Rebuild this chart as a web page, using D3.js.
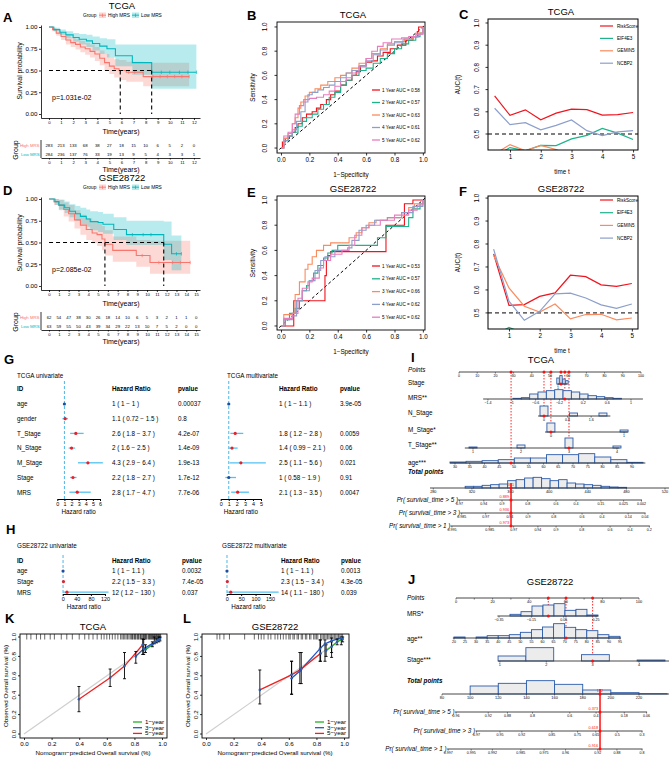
<!DOCTYPE html>
<html>
<head>
<meta charset="utf-8">
<script src="https://cdn.jsdelivr.net/npm/d3@7/dist/d3.min.js"></script>
<style>
html,body{margin:0;padding:0;background:#fff;}
svg{display:block;}
</style>
</head>
<body>
<svg id="fig" width="669" height="758"></svg>
<script>
// ===================== DATA =====================
// ---- A: TCGA Kaplan-Meier
const kmA_high_time  = [0, 0.3, 0.6, 1.0, 1.4, 1.8, 2.2, 2.6, 3.0, 3.4, 3.8, 4.2, 4.6, 5.0, 5.4, 5.8, 6.4, 7.8, 11.6];
const kmA_high_surv  = [1, 0.97, 0.93, 0.89, 0.85, 0.82, 0.80, 0.77, 0.75, 0.72, 0.69, 0.64, 0.59, 0.55, 0.52, 0.50, 0.48, 0.43, 0.43];
const kmA_high_lower = [1, 0.95, 0.90, 0.85, 0.80, 0.77, 0.74, 0.71, 0.68, 0.65, 0.61, 0.56, 0.50, 0.46, 0.42, 0.39, 0.37, 0.32, 0.32];
const kmA_high_upper = [1, 0.99, 0.96, 0.93, 0.90, 0.88, 0.86, 0.84, 0.82, 0.80, 0.77, 0.73, 0.69, 0.65, 0.63, 0.62, 0.60, 0.59, 0.59];
const kmA_high_cens  = [6.6, 7.1, 8.6, 9.2, 9.8, 10.4, 11.0, 11.6];
const kmA_low_time   = [0, 0.4, 0.9, 1.4, 2.0, 2.5, 3.1, 3.6, 4.2, 4.8, 5.5, 6.9, 8.5, 12.2];
const kmA_low_surv   = [1, 0.97, 0.94, 0.91, 0.88, 0.86, 0.84, 0.81, 0.78, 0.75, 0.67, 0.59, 0.48, 0.48];
const kmA_low_lower  = [1, 0.95, 0.91, 0.87, 0.83, 0.80, 0.77, 0.73, 0.69, 0.65, 0.55, 0.45, 0.29, 0.29];
const kmA_low_upper  = [1, 0.99, 0.97, 0.95, 0.93, 0.92, 0.91, 0.89, 0.87, 0.86, 0.80, 0.80, 0.80, 0.80];
const kmA_low_cens   = [9.3, 10.0, 10.8, 11.5, 12.2];
const kmA_medians    = [5.9, 8.5];
const riskA_times = [0,1,2,3,4,5,6,7,8,9,10,11,12];
const riskA_high  = [283,213,133,68,38,27,18,15,10,6,5,2,0];
const riskA_low   = [284,236,137,76,33,19,13,9,5,4,3,3,1];
// ---- D: GSE28722 Kaplan-Meier
const kmD_high_time  = [0, 0.5, 1.0, 1.5, 2.0, 2.6, 3.2, 3.8, 4.4, 4.9, 5.4, 5.7, 6.5, 8.9, 10.3, 14.4];
const kmD_high_surv  = [1, 0.97, 0.93, 0.88, 0.83, 0.76, 0.70, 0.65, 0.61, 0.59, 0.54, 0.48, 0.41, 0.35, 0.27, 0.27];
const kmD_high_lower = [1, 0.93, 0.87, 0.80, 0.74, 0.66, 0.59, 0.53, 0.49, 0.46, 0.41, 0.35, 0.28, 0.22, 0.14, 0.14];
const kmD_high_upper = [1, 1.0, 0.99, 0.96, 0.93, 0.87, 0.82, 0.78, 0.75, 0.73, 0.69, 0.64, 0.57, 0.53, 0.52, 0.52];
const kmD_high_cens  = [9.5, 11.2, 12.6, 13.4, 14.4];
const kmD_low_time   = [0, 0.6, 1.0, 1.6, 2.1, 2.7, 3.2, 3.8, 4.2, 5.0, 5.5, 6.6, 7.9, 11.7, 12.5, 13.5];
const kmD_low_surv   = [1, 0.97, 0.93, 0.90, 0.86, 0.83, 0.80, 0.77, 0.74, 0.73, 0.71, 0.65, 0.59, 0.48, 0.37, 0.37];
const kmD_low_lower  = [1, 0.93, 0.88, 0.84, 0.79, 0.75, 0.71, 0.68, 0.64, 0.62, 0.60, 0.53, 0.47, 0.30, 0.18, 0.18];
const kmD_low_upper  = [1, 1.0, 0.99, 0.97, 0.94, 0.92, 0.90, 0.88, 0.86, 0.85, 0.83, 0.79, 0.75, 0.74, 0.58, 0.58];
const kmD_low_cens   = [8.5, 9.6, 10.4, 13.0, 13.5];
const kmD_medians    = [5.7, 11.7];
const riskD_times = [0,1,2,3,4,5,6,7,8,9,10,11,12,13,14,15];
const riskD_high  = [62,54,47,38,30,26,18,14,10,6,5,3,2,1,1,0];
const riskD_low   = [63,59,55,50,43,39,34,29,22,13,10,7,5,2,0,0];

// ---- B / E: time-dependent ROC
const rocYears  = ["1 Year","2 Year","3 Year","4 Year","5 Year"];
const rocB_auc  = ["0.58","0.57","0.63","0.61","0.62"];
const rocE_auc  = ["0.53","0.57","0.66","0.62","0.62"];
const rocB_1y = [[0,0],[0.01,0.05],[0.03,0.08],[0.06,0.1],[0.08,0.13],[0.1,0.17],[0.12,0.2],[0.15,0.25],[0.18,0.28],[0.22,0.3],[0.25,0.33],[0.28,0.36],[0.32,0.4],[0.35,0.44],[0.38,0.47],[0.42,0.52],[0.46,0.56],[0.5,0.6],[0.53,0.63],[0.56,0.68],[0.6,0.71],[0.64,0.72],[0.68,0.76],[0.72,0.79],[0.77,0.82],[0.82,0.85],[0.88,0.89],[0.93,0.92],[0.96,0.96],[0.97,1],[1,1]];
const rocB_2y = [[0,0],[0.02,0.06],[0.05,0.1],[0.08,0.13],[0.12,0.18],[0.15,0.22],[0.18,0.25],[0.22,0.28],[0.26,0.32],[0.3,0.36],[0.34,0.42],[0.38,0.46],[0.42,0.52],[0.46,0.56],[0.5,0.6],[0.55,0.64],[0.6,0.66],[0.65,0.7],[0.7,0.74],[0.75,0.78],[0.8,0.82],[0.85,0.86],[0.9,0.89],[0.95,0.92],[0.98,0.95],[1,0.96],[1,1]];
const rocB_3y = [[0,0],[0.02,0.08],[0.05,0.12],[0.08,0.2],[0.1,0.25],[0.12,0.33],[0.14,0.38],[0.17,0.43],[0.2,0.46],[0.24,0.49],[0.28,0.52],[0.33,0.55],[0.38,0.58],[0.42,0.6],[0.46,0.62],[0.5,0.66],[0.55,0.7],[0.6,0.74],[0.64,0.78],[0.7,0.82],[0.75,0.86],[0.8,0.88],[0.87,0.9],[0.93,0.92],[0.97,0.95],[1,0.97],[1,1]];
const rocB_4y = [[0,0],[0.02,0.06],[0.05,0.1],[0.08,0.15],[0.11,0.22],[0.14,0.3],[0.17,0.38],[0.19,0.44],[0.22,0.46],[0.26,0.48],[0.3,0.5],[0.34,0.52],[0.38,0.55],[0.42,0.58],[0.46,0.62],[0.5,0.64],[0.55,0.67],[0.6,0.72],[0.65,0.77],[0.7,0.81],[0.75,0.85],[0.8,0.87],[0.86,0.9],[0.92,0.92],[0.97,0.94],[1,0.98],[1,1]];
const rocB_5y = [[0,0],[0.02,0.1],[0.05,0.13],[0.08,0.2],[0.1,0.28],[0.13,0.35],[0.16,0.4],[0.2,0.41],[0.25,0.42],[0.3,0.44],[0.34,0.47],[0.38,0.51],[0.42,0.55],[0.46,0.58],[0.5,0.62],[0.55,0.68],[0.6,0.74],[0.64,0.8],[0.68,0.84],[0.72,0.87],[0.78,0.9],[0.85,0.91],[0.9,0.92],[0.95,0.94],[1,0.97],[1,1]];
const rocE_1y = [[0,0],[0.09,0],[0.09,0.2],[0.31,0.2],[0.31,0.4],[0.32,0.52],[0.33,0.56],[0.35,0.59],[0.74,0.59],[0.74,0.8],[0.87,0.8],[0.87,0.97],[0.93,0.97],[0.93,1],[1,1]];
const rocE_2y = [[0,0],[0.03,0.05],[0.06,0.1],[0.1,0.14],[0.13,0.2],[0.15,0.28],[0.18,0.32],[0.2,0.36],[0.23,0.42],[0.26,0.48],[0.3,0.54],[0.33,0.58],[0.36,0.6],[0.4,0.64],[0.68,0.64],[0.68,0.7],[0.74,0.72],[0.74,0.79],[0.88,0.79],[0.9,0.86],[0.93,0.93],[0.98,0.97],[1,1]];
const rocE_3y = [[0,0],[0.02,0.09],[0.08,0.1],[0.1,0.25],[0.13,0.35],[0.17,0.45],[0.19,0.49],[0.22,0.55],[0.25,0.6],[0.3,0.64],[0.35,0.66],[0.46,0.66],[0.48,0.7],[0.53,0.74],[0.57,0.78],[0.62,0.82],[0.67,0.84],[0.75,0.86],[0.85,0.9],[0.9,0.94],[0.94,0.97],[1,1]];
const rocE_4y = [[0,0],[0.02,0.05],[0.08,0.08],[0.11,0.2],[0.15,0.28],[0.2,0.36],[0.24,0.44],[0.28,0.52],[0.31,0.55],[0.38,0.6],[0.47,0.62],[0.5,0.68],[0.55,0.76],[0.6,0.8],[0.66,0.84],[0.75,0.86],[0.85,0.9],[0.93,0.95],[1,1]];
const rocE_5y = [[0,0],[0.02,0.06],[0.08,0.1],[0.12,0.22],[0.15,0.3],[0.19,0.35],[0.22,0.38],[0.27,0.46],[0.3,0.52],[0.35,0.57],[0.43,0.6],[0.48,0.64],[0.52,0.72],[0.57,0.78],[0.62,0.8],[0.7,0.84],[0.8,0.88],[0.9,0.92],[0.96,0.96],[1,1]];

// ---- C / F: AUC(t)
const aucTimes  = [0.5,1,1.5,2,2.5,3,3.5,4,4.5,5];
const aucSeries = ["RiskScore","EIF4E3","GEMIN5","NCBP2"];
const aucC_RiskScore = [0.672,0.584,0.609,0.564,0.594,0.612,0.610,0.585,0.587,0.597];
const aucC_EIF4E3    = [0.400,0.439,0.425,0.449,0.448,0.478,0.494,0.525,0.504,0.475];
const aucC_GEMIN5    = [0.410,0.452,0.425,0.449,0.430,0.400,0.390,0.390,0.400,0.410];
const aucC_NCBP2     = [0.616,0.542,0.551,0.519,0.539,0.563,0.515,0.493,0.510,0.515];
const aucF_RiskScore = [0.757,0.533,0.536,0.572,0.587,0.664,0.658,0.622,0.616,0.628];
const aucF_EIF4E3    = [0.400,0.437,0.410,0.400,0.390,0.400,0.410,0.400,0.390,0.400];
const aucF_GEMIN5    = [0.750,0.609,0.529,0.504,0.539,0.474,0.493,0.494,0.470,0.478];
const aucF_NCBP2     = [0.778,0.551,0.468,0.507,0.583,0.586,0.565,0.535,0.520,0.539];
const aucXTicks = [1,2,3,4,5];
const aucYTicks = [0.5,0.6,0.7,0.8,0.9,1.0];

// ---- G / H: Cox forest plots
const forG_ids    = ["age","gender","T_Stage","N_Stage","M_Stage","Stage","MRS"];
const forG_uni_hr = [1, 1.1, 2.6, 2.0, 4.3, 2.2, 2.8];
const forG_uni_lo = [1, 0.72, 1.8, 1.6, 2.9, 1.8, 1.7];
const forG_uni_hi = [1, 1.5, 3.7, 2.5, 6.4, 2.7, 4.7];
const forG_uni_txt = ["1 ( 1 − 1 )","1.1 ( 0.72 − 1.5 )","2.6 ( 1.8 − 3.7 )","2 ( 1.6 − 2.5 )","4.3 ( 2.9 − 6.4 )","2.2 ( 1.8 − 2.7 )","2.8 ( 1.7 − 4.7 )"];
const forG_uni_p   = ["0.00037","0.8","4.2e-07","1.4e-09","1.9e-13","1.7e-12","7.7e-06"];
const forG_mul_hr = [1, null, 1.8, 1.4, 2.5, 1, 2.1];
const forG_mul_lo = [1, null, 1.2, 0.99, 1.1, 0.58, 1.3];
const forG_mul_hi = [1.1, null, 2.8, 2.1, 5.6, 1.9, 3.5];
const forG_mul_txt = ["1 ( 1 − 1.1 )","","1.8 ( 1.2 − 2.8 )","1.4 ( 0.99 − 2.1 )","2.5 ( 1.1 − 5.6 )","1 ( 0.58 − 1.9 )","2.1 ( 1.3 − 3.5 )"];
const forG_mul_p   = ["3.9e-05","","0.0059","0.06","0.021","0.91","0.0047"];
const forG_uni_ticks = [0,1,2,3,4,5,6];
const forG_mul_ticks = [0,1,2,3,4,5];
const forH_ids    = ["age","Stage","MRS"];
const forH_uni_hr = [1, 2.2, 12];
const forH_uni_lo = [1, 1.5, 1.2];
const forH_uni_hi = [1.1, 3.3, 130];
const forH_uni_txt = ["1 ( 1 − 1.1 )","2.2 ( 1.5 − 3.3 )","12 ( 1.2 − 130 )"];
const forH_uni_p   = ["0.0032","7.4e-05","0.037"];
const forH_mul_hr = [1, 2.3, 14];
const forH_mul_lo = [1, 1.5, 1.1];
const forH_mul_hi = [1.1, 3.4, 180];
const forH_mul_txt = ["1 ( 1 − 1.1 )","2.3 ( 1.5 − 3.4 )","14 ( 1.1 − 180 )"];
const forH_mul_p   = ["0.0013","4.3e-05","0.039"];
const forH_uni_ticks = [0,40,80,120];
const forH_mul_ticks = [0,50,100,150];

// ---- I: TCGA nomogram
const nI_pointTicks = [0,10,20,30,40,50,60,70,80,90,100];
const nI_stage_pts = [54.4, 59.3];            // points at Stage 1 and 4
const nI_stage_vals = [1,2,3,4];
const nI_stage_counts = [18,25,15,10];
const nI_mrs_pts = [15.9, 94.5];              // points at MRS -1.4 and 1
const nI_mrs_ticks = [-1.4,-1,-0.6,-0.2,0.2,0.6,1];
const nI_mrs_tickLabels = ["−1.4","−1","−0.6","−0.2","0.2","0.6","1"];
const nI_mrs_edges = [-0.98,-0.84,-0.70,-0.56,-0.42,-0.28,-0.14,0,0.14,0.28,0.42,0.56,0.70,0.84];
const nI_mrs_counts = [2,4,15,21,25,28,25,21,15,10,7,4,2];
const nI_n_pts = [46.7, 62.9];                // points at N 0 and 1
const nI_n_ticks = [0,0.8,1.6];
const nI_n_vals = [0,1,2];
const nI_n_counts = [30,9,9];
const nI_m_pts = [50.5, 90.7];
const nI_m_ticks = [0,1];
const nI_m_vals = [0,1];
const nI_m_counts = [27,6];
const nI_t_pts = [7.7, 86.8];                 // points at T 1 and 4
const nI_t_ticks = [1,2,3,4];
const nI_t_vals = [1,2,3,4];
const nI_t_counts = [3,9,30,6];
const nI_age_pts = [-2.2, 95.1];              // points at age 30 and 90
const nI_age_ticks = [30,35,40,45,50,55,60,65,70,75,80,85,90];
const nI_age_edges = [28.3,33.75,39.2,44.65,50.1,55.55,61,66.45,71.9,77.35,82.8,88.25,93.7];
const nI_age_counts = [3,5,7,10,15,15,25,25,28,18,10,2];
const nI_tp_ticks = [280,320,360,400,440,480,520];
const nI_tp_edges = [313,321.8,330.6,339.4,348.2,357,365.8,374.6,383.4,392.2,401,409.8,418.6,427.4,436.2,445,453.8,462.6,471.4,480.2];
const nI_tp_counts = [5,5,8,10,12,22,25,30,32,28,22,25,15,12,10,8,5,3,2];
const nI_beta = 0.02823;
const nI_pr_tp0 = [430.9, 457.9, 486.9];
const nI_pr_ticks = [[0.97,0.94,0.9,0.8,0.6,0.4,0.15,0.025,0.002],[0.985,0.97,0.94,0.9,0.8,0.6,0.4,0.14,0.04],[0.995,0.985,0.97,0.94,0.9,0.8,0.6,0.4,0.2]];
const nI_patient = {stage:2, mrs:-0.11, n:0, m:0, t:3, age:49, tp:360.5};
const nI_patient_labels = ["361","0.889","0.936","0.973"];

// ---- J: GSE28722 nomogram
const nJ_pointTicks = [0,10,20,30,40,50,60,70,80,90,100];
const nJ_pointLabels = ["0","","20","","40","","60","","80","","100"];
const nJ_mrs_pts = [23.5, 76.5];              // points at MRS -0.35 and 0.25
const nJ_mrs_ticks = [-0.35,-0.15,0.05,0.25];
const nJ_mrs_tickLabels = ["−0.35","−0.15","0.05","0.25"];
const nJ_mrs_edges = [-0.282,-0.214,-0.146,-0.078,-0.01,0.058,0.126,0.194,0.262];
const nJ_mrs_counts = [5,13,30,33,37,17,20,3];
const nJ_age_pts = [-1.1, 89.6];              // points at age 20 and 95
const nJ_age_ticks = [20,25,30,35,40,45,50,55,60,65,70,75,80,85,90,95];
const nJ_age_edges = [20,25,30,35,40,45,50,55,60,65,70,75,80,85,90,95];
const nJ_age_counts = [3,0,3,7,7,10,17,25,33,43,32,25,22,10,5];
const nJ_stage_pts = [24, 100];               // points at Stage 1 and 4
const nJ_stage_ticks = [1,2,3,4];
const nJ_stage_edges = [0.96,1.56,2.16,2.76,3.36,3.96,4.56];
const nJ_stage_counts = [15,40,0,19,0,3];
const nJ_tp_ticks = [80,100,120,140,160,180,200,220];
const nJ_tp_edges = [80,100,120,140,160,180,200,220,240];
const nJ_tp_counts = [0,24,32,40,29,12,4,1];
const nJ_beta = 0.03127;
const nJ_pr_tp0 = [192.3, 216.2, 270.1];
const nJ_pr_ticks = [[0.96,0.92,0.88,0.8,0.6,0.4,0.18,0.06],[0.97,0.95,0.92,0.85,0.75,0.65,0.5,0.3],[0.997,0.995,0.992,0.985,0.975,0.96,0.92,0.88,0.8]];
const nJ_patient = {mrs:-0.045, age:70.6, stage:3, tp:192.3};
const nJ_patient_labels = ["192","0.373","0.618","0.916"];
const prLabels = ["Pr( survival_time > 5 )","Pr( survival_time > 3 )","Pr( survival_time > 1 )"];

// ---- K / L: calibration
const calYears = ["1−year","3−year","5−year"];
const calK_1y_x = [0.88,0.93,0.96,0.985], calK_1y_y = [0.87,0.92,0.96,0.98], calK_1y_lo = [0.84,0.90,0.94,0.96], calK_1y_hi = [0.92,0.95,0.98,1.0];
const calK_3y_x = [0.81,0.867,0.944,0.976], calK_3y_y = [0.80,0.88,0.945,0.97], calK_3y_lo = [0.73,0.82,0.93,0.95], calK_3y_hi = [0.85,0.975,1.0,1.0];
const calK_5y_x = [0.398,0.624,0.728,0.86], calK_5y_y = [0.358,0.58,0.70,0.92], calK_5y_lo = [0.23,0.49,0.57,0.82], calK_5y_hi = [0.49,0.67,0.84,0.98];
const calL_1y_x = [0.87,0.91,0.95,0.99], calL_1y_y = [0.86,0.90,0.95,0.98], calL_1y_lo = [0.80,0.84,0.92,0.95], calL_1y_hi = [0.92,0.95,0.98,1.0];
const calL_3y_x = [0.62,0.68,0.826,0.862,0.91,0.98], calL_3y_y = [0.575,0.65,0.88,0.93,0.96,0.99], calL_3y_lo = [0.41,0.52,0.75,0.75,0.79,0.92], calL_3y_hi = [0.75,0.84,0.97,0.97,0.99,1.0];
const calL_5y_x = [0.39,0.62,0.69,0.83], calL_5y_y = [0.455,0.61,0.67,0.83], calL_5y_lo = [0.31,0.41,0.52,0.75], calL_5y_hi = [0.66,0.75,0.84,0.97];
const calTicks = [0,0.2,0.4,0.6,0.8,1.0];
const rugK = [0.02,0.05,0.09,0.12,0.15,0.19,0.22,0.27,0.31,0.35,0.4,0.44,0.47,0.5,0.53,0.56,0.58,0.6,0.62,0.64,0.66,0.68,0.7,0.71,0.72,0.73,0.74,0.75,0.76,0.77,0.78,0.785,0.79,0.8,0.805,0.81,0.82,0.825,0.83,0.84,0.845,0.85,0.86,0.865,0.87,0.875,0.88,0.885,0.89,0.9,0.905,0.91,0.915,0.92,0.925,0.93,0.935,0.94,0.945,0.95,0.955,0.96,0.965,0.97,0.975,0.98,0.985,0.99];
const rugL = [0.08,0.1,0.13,0.17,0.28,0.35,0.38,0.4,0.42,0.45,0.47,0.5,0.52,0.54,0.56,0.58,0.6,0.61,0.63,0.64,0.66,0.67,0.69,0.7,0.72,0.73,0.75,0.76,0.78,0.79,0.8,0.81,0.83,0.84,0.85,0.86,0.87,0.88,0.89,0.9,0.91,0.92,0.93,0.94,0.95,0.96,0.97,0.98,0.99];

// ===================== HELPERS =====================
const svg = d3.select("#fig");
const FF = '"Liberation Sans", Arial, Helvetica, sans-serif';
const cHigh = "#F8766D", cLow = "#00B7BD";
const rocColors = ["#F0141E","#1DB38B","#F98B5E","#8C9FCB","#E77DBE"];
const aucColors = ["#F0141E","#1DB38B","#F98B5E","#8C9FCB"];
const calColors = ["#22B022","#2256C8","#F02020"];

function T(x, y, s, fs, o) {
  o = o || {};
  const t = svg.append("text").attr("x", x).attr("y", y).text(s)
    .attr("font-size", fs).attr("font-family", FF).attr("fill", o.fill || "#000");
  if (o.anchor) t.attr("text-anchor", o.anchor);
  if (o.weight) t.attr("font-weight", o.weight);
  if (o.style) t.attr("font-style", o.style);
  if (o.rot != null) t.attr("transform", "rotate(" + o.rot + "," + x + "," + y + ")");
  return t;
}
function L(x1, y1, x2, y2, c, w, dash, parent) {
  const l = (parent || svg).append("line").attr("x1", x1).attr("y1", y1).attr("x2", x2).attr("y2", y2)
    .attr("stroke", c || "#000").attr("stroke-width", w || 0.8);
  if (dash) l.attr("stroke-dasharray", dash);
  return l;
}
function styleAxis(g, fs, sw) {
  g.selectAll("path.domain").attr("stroke", "#000").attr("stroke-width", sw || 0.8);
  g.selectAll(".tick line").attr("stroke", "#000").attr("stroke-width", sw || 0.8);
  g.selectAll(".tick text").attr("font-size", fs).attr("font-family", FF).attr("fill", "#000");
}
function clip(id, x, y, w, h) {
  svg.append("clipPath").attr("id", id).append("rect").attr("x", x).attr("y", y).attr("width", w).attr("height", h);
  return svg.append("g").attr("clip-path", "url(#" + id + ")");
}
function panelLetter(x, y, s) { T(x, y, s, 13, {weight: "bold"}); }
const fmtInt = d3.format("d");

// ===================== KM (A, D) =====================
function drawKM(o) {
  const dy = o.dy;
  const x = d3.scaleLinear().domain(o.xdom).range([41, 200]);
  const y = d3.scaleLinear().domain([-0.046, 1.023]).range([118 + dy, 25 + dy]);
  const g = clip("km" + o.key, 41, 22 + dy, 160, 96);
  o.groups.forEach(gr => {
    const pts = gr.time.map((t, i) => ({t: t, lo: gr.lower[i], hi: gr.upper[i]}));
    g.append("path").datum(pts)
      .attr("d", d3.area().curve(d3.curveStepAfter).x(d => x(d.t)).y0(d => y(d.lo)).y1(d => y(d.hi)))
      .attr("fill", gr.color).attr("fill-opacity", 0.28);
  });
  o.groups.forEach(gr => {
    const pts = gr.time.map((t, i) => ({t: t, s: gr.surv[i]}));
    g.append("path").datum(pts)
      .attr("d", d3.line().curve(d3.curveStepAfter).x(d => x(d.t)).y(d => y(d.s)))
      .attr("fill", "none").attr("stroke", gr.color).attr("stroke-width", 1.1);
    gr.cens.forEach(c => {
      let s = gr.surv[0];
      gr.time.forEach((t, i) => { if (t <= c) s = gr.surv[i]; });
      L(x(c), y(s) - 1.7, x(c), y(s) + 1.7, gr.color, 0.7, null, g);
    });
  });
  const mx = Math.max.apply(null, o.medians);
  L(x(0), y(0.5), x(mx), y(0.5), "#000", 1.1, "4,3");
  o.medians.forEach(m => L(x(m), y(0.5), x(m), y(0), "#000", 1.1, "4,3"));
  const gx = svg.append("g").attr("transform", "translate(0," + (118 + dy) + ")")
    .call(d3.axisBottom(x).tickValues(o.riskTimes).tickFormat(fmtInt).tickSize(2).tickPadding(1.2).tickSizeOuter(0));
  styleAxis(gx, 4.3);
  const gy = svg.append("g").attr("transform", "translate(41,0)")
    .call(d3.axisLeft(y).tickValues([0, 0.25, 0.5, 0.75, 1]).tickFormat(d3.format(".2f")).tickSize(2).tickPadding(1.5).tickSizeOuter(0));
  styleAxis(gy, 6.2);
  T(121, 134 + dy, "Time(years)", 7, {anchor: "middle"});
  T(21.5, 71 + dy, "Survival probability", 6.8, {anchor: "middle", rot: -90});
  T(52, 100 + dy, o.pText, 7);
  T(122, 9 + dy, o.title, 9.5, {anchor: "middle"});
  // legend
  T(83, 16.8 + dy, "Group", 4.8);
  [[99, 108, cHigh, "High MRS"], [132, 141, cLow, "Low MRS"]].forEach(k => {
    svg.append("rect").attr("x", k[0]).attr("y", 12.5 + dy).attr("width", 7).attr("height", 5.5)
      .attr("fill", k[2]).attr("fill-opacity", 0.3);
    L(k[0], 15.2 + dy, k[0] + 7, 15.2 + dy, k[2], 0.9);
    L(k[0] + 3.5, 13.5 + dy, k[0] + 3.5, 17 + dy, k[2], 0.7);
    T(k[1], 16.8 + dy, k[3], 4.8);
  });
  // risk table
  const rowY = [147 + dy, 156 + dy];
  o.risk.forEach((arr, k) => arr.forEach((n, i) => T(x(o.riskTimes[i]), rowY[k], n, 4.3, {anchor: "middle"})));
  T(39.5, rowY[0], "High MRS", 4.3, {anchor: "end", fill: cHigh});
  T(39.5, rowY[1], "Low MRS", 4.3, {anchor: "end", fill: cLow});
  L(41, 140 + dy, 41, 158 + dy, "#000", 0.8);
  const gt = svg.append("g").attr("transform", "translate(0," + (158 + dy) + ")")
    .call(d3.axisBottom(x).tickValues(o.riskTimes).tickFormat(fmtInt).tickSize(1.5).tickPadding(1).tickSizeOuter(0));
  styleAxis(gt, 4.3);
  T(121, 172 + dy, "Time(years)", 7, {anchor: "middle"});
  T(17.5, 150 + dy, "Group", 7, {anchor: "middle", rot: -90});
}

drawKM({key: "A", dy: 0, xdom: [-0.66, 12.5], title: "TCGA", pText: "p=1.031e-02",
  medians: kmA_medians, riskTimes: riskA_times, risk: [riskA_high, riskA_low],
  groups: [
    {color: cHigh, time: kmA_high_time, surv: kmA_high_surv, lower: kmA_high_lower, upper: kmA_high_upper, cens: kmA_high_cens},
    {color: cLow, time: kmA_low_time, surv: kmA_low_surv, lower: kmA_low_lower, upper: kmA_low_upper, cens: kmA_low_cens}]});
drawKM({key: "D", dy: 172, xdom: [-0.82, 15.4], title: "GSE28722", pText: "p=2.085e-02",
  medians: kmD_medians, riskTimes: riskD_times, risk: [riskD_high, riskD_low],
  groups: [
    {color: cHigh, time: kmD_high_time, surv: kmD_high_surv, lower: kmD_high_lower, upper: kmD_high_upper, cens: kmD_high_cens},
    {color: cLow, time: kmD_low_time, surv: kmD_low_surv, lower: kmD_low_lower, upper: kmD_low_upper, cens: kmD_low_cens}]});
panelLetter(3, 22, "A");
panelLetter(3, 195, "D");

// ===================== ROC (B, E) =====================
function drawROC(o) {
  const x = d3.scaleLinear().domain([-0.028, 1.015]).range([277, 425]);
  const y = d3.scaleLinear().domain(o.ydom).range([o.bottom, o.top]);
  const g = clip("roc" + o.key, 277, o.top, 148, o.bottom - o.top);
  L(x(-0.1), y(-0.1), x(1.1), y(1.1), "#000", 1, "3,2.5", g);
  o.curves.forEach((c, i) => {
    g.append("path").datum(c)
      .attr("d", d3.line().curve(d3.curveStepAfter).x(d => x(d[0])).y(d => y(d[1])))
      .attr("fill", "none").attr("stroke", rocColors[i]).attr("stroke-width", 1.1);
  });
  svg.append("rect").attr("x", 277).attr("y", o.top).attr("width", 148).attr("height", o.bottom - o.top)
    .attr("fill", "none").attr("stroke", "#000").attr("stroke-width", 0.9);
  const gx = svg.append("g").attr("transform", "translate(0," + o.bottom + ")")
    .call(d3.axisBottom(x).tickValues([0, 0.2, 0.4, 0.6, 0.8, 1]).tickFormat(d3.format(".1f")).tickSize(2.5).tickPadding(2.5));
  gx.select("path.domain").remove();
  styleAxis(gx, 6.3);
  [0, 0.2, 0.4, 0.6, 0.8, 1].forEach(v => {
    L(277, y(v), 274.5, y(v), "#000", 0.8);
    T(267.5, y(v), d3.format(".1f")(v), 6.3, {anchor: "middle", rot: -90});
  });
  T(353, o.top - 4, o.title, 9.5, {anchor: "middle"});
  T(351, o.bottom + 24, "1−Specificity", 6.3, {anchor: "middle"});
  T(255, (o.top + o.bottom) / 2, "Sensitivity", 6.3, {anchor: "middle", rot: -90});
  o.auc.forEach((a, i) => {
    const yy = o.legY + i * o.legStep;
    L(372, yy, 380, yy, rocColors[i], 1.3);
    T(382, yy + 1.6, rocYears[i] + " AUC = " + a, 4.6);
  });
}
drawROC({key: "B", top: 22, bottom: 153, ydom: [-0.041, 1.041], title: "TCGA",
  curves: [rocB_1y, rocB_2y, rocB_3y, rocB_4y, rocB_5y], auc: rocB_auc, legY: 90, legStep: 12.5});
drawROC({key: "E", top: 196, bottom: 330, ydom: [-0.032, 1.032], title: "GSE28722",
  curves: [rocE_1y, rocE_2y, rocE_3y, rocE_4y, rocE_5y], auc: rocE_auc, legY: 266, legStep: 12.8});
panelLetter(247, 20, "B");
panelLetter(247, 197, "E");

// ===================== AUC(t) (C, F) =====================
function drawAUC(o) {
  const x = d3.scaleLinear().domain(o.xdom).range([488, 638]);
  const y = d3.scaleLinear().domain(o.ydom).range([o.bottom, o.top]);
  const g = clip("auc" + o.key, 488, o.top, 150, o.bottom - o.top);
  L(488, y(0.5), 638, y(0.5), "#000", 1, "4,3", g);
  o.series.forEach((s, i) => {
    g.append("path").datum(aucTimes.map((t, k) => [t, s[k]]))
      .attr("d", d3.line().x(d => x(d[0])).y(d => y(d[1])))
      .attr("fill", "none").attr("stroke", aucColors[i]).attr("stroke-width", 1.2);
  });
  svg.append("rect").attr("x", 488).attr("y", o.top).attr("width", 150).attr("height", o.bottom - o.top)
    .attr("fill", "none").attr("stroke", "#000").attr("stroke-width", 1);
  const gx = svg.append("g").attr("transform", "translate(0," + o.bottom + ")")
    .call(d3.axisBottom(x).tickValues(aucXTicks).tickFormat(fmtInt).tickSize(2.5).tickPadding(2.5));
  gx.select("path.domain").remove();
  styleAxis(gx, 6.3);
  aucYTicks.forEach(v => {
    L(488, y(v), 485.5, y(v), "#000", 0.8);
    T(479, y(v), d3.format(".1f")(v), 6.3, {anchor: "middle", rot: -90});
  });
  T(561, o.top - 4, o.title, 9.5, {anchor: "middle"});
  T(562, o.bottom + 24, "time t", 6.3, {anchor: "middle"});
  T(460, (o.top + o.bottom) / 2, "AUC(t)", 6.3, {anchor: "middle", rot: -90});
  aucSeries.forEach((s, i) => {
    const yy = o.legY + i * o.legStep;
    L(600, yy, 613, yy, aucColors[i], 1.2);
    T(617, yy + 1.6, s, 4.6);
  });
}
drawAUC({key: "C", top: 19, bottom: 150, xdom: [0.285, 5.16], ydom: [0.428, 1.018], title: "TCGA",
  series: [aucC_RiskScore, aucC_EIF4E3, aucC_GEMIN5, aucC_NCBP2], legY: 26, legStep: 12.4});
drawAUC({key: "F", top: 196, bottom: 329, xdom: [0.317, 5.2], ydom: [0.43, 1.009], title: "GSE28722",
  series: [aucF_RiskScore, aucF_EIF4E3, aucF_GEMIN5, aucF_NCBP2], legY: 200, legStep: 12.7});
panelLetter(459, 19, "C");
panelLetter(459, 196, "F");

// ===================== Forest (G, H) =====================
function drawForest(o) {
  const x = d3.scaleLinear().domain(o.dom).range(o.rng);
  L(x(1), o.dashTop, x(1), o.axisY, "#4FB6E6", 1, "3,2");
  o.hr.forEach((h, i) => {
    if (h == null) return;
    const yy = o.rowY[i];
    if (o.lo[i] !== o.hi[i]) L(x(o.lo[i]), yy, x(o.hi[i]), yy, "#52C2F0", 1.3);
    svg.append("circle").attr("cx", x(h)).attr("cy", yy).attr("r", 1.6)
      .attr("fill", h === 1 ? "#1F4E9E" : "#E8202A");
    T(o.xHR, yy + 2.3, o.txt[i], 6.3);
    T(o.xP, yy + 2.3, o.p[i], 6.3);
  });
  const g = svg.append("g").attr("transform", "translate(0," + o.axisY + ")")
    .call(d3.axisBottom(x).tickValues(o.ticks).tickFormat(fmtInt).tickSize(2).tickPadding(1).tickSizeOuter(0));
  styleAxis(g, 5.4, 1);
  T((o.rng[0] + o.rng[1]) / 2, o.axisY + 14.5, "Hazard ratio", 6.3, {anchor: "middle"});
  T(o.xHR, o.headY, "Hazard Ratio", 6.3, {weight: "bold"});
  T(o.xP, o.headY, "pvalue", 6.3, {weight: "bold"});
  T(o.titleX, o.titleY, o.title, 6.3);
  if (o.ids) {
    T(17, o.headY, "ID", 6.3, {weight: "bold"});
    o.ids.forEach((s, i) => T(17, o.rowY[i] + 2.3, s, 6.3));
  }
}
const rowsG = forG_ids.map((d, i) => 404 + i * 14.7);
const rowsH = forH_ids.map((d, i) => 571 + i * 10.6);
drawForest({ids: forG_ids, hr: forG_uni_hr, lo: forG_uni_lo, hi: forG_uni_hi, txt: forG_uni_txt, p: forG_uni_p,
  dom: [0, 6], rng: [57.3, 100], ticks: forG_uni_ticks, rowY: rowsG, axisY: 499, dashTop: 381, headY: 391,
  xHR: 112, xP: 178, title: "TCGA univariate", titleX: 17, titleY: 377.5});
drawForest({hr: forG_mul_hr, lo: forG_mul_lo, hi: forG_mul_hi, txt: forG_mul_txt, p: forG_mul_p,
  dom: [0, 5], rng: [220.7, 261], ticks: forG_mul_ticks, rowY: rowsG, axisY: 499, dashTop: 381, headY: 391,
  xHR: 279, xP: 340, title: "TCGA multivariate", titleX: 227, titleY: 377.5});
drawForest({ids: forH_ids, hr: forH_uni_hr, lo: forH_uni_lo, hi: forH_uni_hi, txt: forH_uni_txt, p: forH_uni_p,
  dom: [0, 120], rng: [62.7, 105], ticks: forH_uni_ticks, rowY: rowsH, axisY: 594, dashTop: 555, headY: 562.5,
  xHR: 112, xP: 182, title: "GSE28722 univariate", titleX: 17, titleY: 547.5});
drawForest({hr: forH_mul_hr, lo: forH_mul_lo, hi: forH_mul_hi, txt: forH_mul_txt, p: forH_mul_p,
  dom: [0, 150], rng: [226.7, 270], ticks: forH_mul_ticks, rowY: rowsH, axisY: 594, dashTop: 555, headY: 562.5,
  xHR: 281, xP: 341, title: "GSE28722 multivariate", titleX: 222, titleY: 547.5});
panelLetter(4, 364, "G");
panelLetter(6, 534, "H");

// ===================== Nomograms (I, J) =====================
const barFill = "#ECECEC", barStroke = "#2B5BAA";
function nAxis(scale, y, from, to, ticks, labels, fs) {
  L(scale(from), y, scale(to), y, "#333", 0.9);
  ticks.forEach((v, i) => {
    const xx = scale(v);
    L(xx, y, xx, y + 1.6, "#333", 0.6);
    const lab = labels ? labels[i] : String(v);
    if (lab !== "") T(xx, y + 5.3, lab, fs || 3.8, {anchor: "middle"});
  });
}
function nHistBins(scale, y, edges, counts, hs) {
  counts.forEach((c, i) => {
    if (c <= 0) return;
    const x0 = scale(edges[i]), x1 = scale(edges[i + 1]);
    svg.append("rect").attr("x", x0).attr("y", y - hs(c)).attr("width", x1 - x0).attr("height", hs(c))
      .attr("fill", barFill).attr("stroke", barStroke).attr("stroke-width", 0.9);
  });
}
function nHistCat(scale, y, vals, counts, hs, w) {
  vals.forEach((v, i) => {
    const xc = scale(v);
    svg.append("rect").attr("x", xc - w / 2).attr("y", y - hs(counts[i])).attr("width", w).attr("height", hs(counts[i]))
      .attr("fill", barFill).attr("stroke", barStroke).attr("stroke-width", 0.9);
  });
}
function rowScale(p, dom, pts) { return d3.scaleLinear().domain(dom).range([p(pts[0]), p(pts[1])]); }
function redDot(x, y) { svg.append("circle").attr("cx", x).attr("cy", y).attr("r", 1.5).attr("fill", "#FF1010"); }
function redDotted(x, y1, y2) { L(x, y1, x, y2, "#FF1010", 0.9, "1.5,1.5"); }

// ---- I
(function () {
  const p = d3.scaleLinear().domain([0, 100]).range([459, 641]);
  const hs = d3.scaleLinear().domain([0, 30]).range([0, 10]);
  const tp = d3.scaleLinear().domain([280, 520]).range([433.3, 665]);
  const yP = 372, yS = 384, yM = 399, yN = 416, yMs = 432, yT = 448, yA = 463, yTP = 488, yPr = [500, 513, 526];
  const sS = rowScale(p, [1, 4], nI_stage_pts);
  const sM = rowScale(p, [-1.4, 1], nI_mrs_pts);
  const sN = rowScale(p, [0, 1], nI_n_pts);
  const sMs = rowScale(p, [0, 1], nI_m_pts);
  const sT = rowScale(p, [1, 4], nI_t_pts);
  const sA = rowScale(p, [30, 90], nI_age_pts);
  const pat = nI_patient;
  [[sS(pat.stage), yS], [sM(pat.mrs), yM], [sN(pat.n), yN], [sMs(pat.m), yMs], [sT(pat.t), yT], [sA(pat.age), yA]]
    .forEach(d => { redDotted(d[0], yP, d[1]); });
  nAxis(p, yP, 0, 100, nI_pointTicks, null, 3.6);
  nHistCat(sS, yS, nI_stage_vals, nI_stage_counts, hs, 2.4);
  nAxis(sS, yS, 0.9, 4.1, [1], ["1"], 3.6);
  nHistBins(sM, yM, nI_mrs_edges, nI_mrs_counts, hs);
  nAxis(sM, yM, -1.48, 1.2, nI_mrs_ticks, nI_mrs_tickLabels, 3.6);
  nHistCat(sN, yN, nI_n_vals, nI_n_counts, hs, 8);
  nAxis(sN, yN, -0.2, 2.25, nI_n_ticks, ["0", "0.8", "1.6"], 3.6);
  nHistCat(sMs, yMs, nI_m_vals, nI_m_counts, hs, 8);
  nAxis(sMs, yMs, -0.08, 1.05, nI_m_ticks, ["0", "1"], 3.6);
  nHistCat(sT, yT, nI_t_vals, nI_t_counts, hs, 8);
  nAxis(sT, yT, 0.83, 4.05, nI_t_ticks, null, 3.6);
  nHistBins(sA, yA, nI_age_edges, nI_age_counts, hs);
  nAxis(sA, yA, 28.3, 94.5, nI_age_ticks, null, 3.6);
  nHistBins(tp, yTP, nI_tp_edges, nI_tp_counts, hs);
  nAxis(tp, yTP, 276.6, 524.1, nI_tp_ticks, null, 3.8);
  nI_pr_tp0.forEach((t0, k) => {
    const px = v => tp(t0 + Math.log(-Math.log(v)) / nI_beta);
    const tk = nI_pr_ticks[k];
    L(px(tk[0]) - 1.5, yPr[k], px(tk[tk.length - 1]) + 0.5, yPr[k], "#333", 0.9);
    tk.forEach(v => { L(px(v), yPr[k], px(v), yPr[k] + 1.6, "#333", 0.6); T(px(v), yPr[k] + 5.3, String(v), 3.6, {anchor: "middle"}); });
    T(px(tk[0]) - 1.5, yPr[k] + 2, prLabels[k], 6.3, {anchor: "end", style: "italic"});
  });
  [[sS(pat.stage), yS], [sM(pat.mrs), yM], [sN(pat.n), yN], [sMs(pat.m), yMs], [sT(pat.t), yT], [sA(pat.age), yA]]
    .forEach(d => { redDot(d[0], d[1]); redDot(d[0], yP); });
  const xr = tp(pat.tp);
  L(xr, yTP - 5, xr, yPr[2], "#FF1010", 1.5);
  redDot(xr, yTP); yPr.forEach(yy => redDot(xr, yy));
  T(xr, yTP - 2.5, nI_patient_labels[0], 3.8, {anchor: "middle", fill: "#FF1010"});
  yPr.forEach((yy, k) => T(xr - 2, yy - 2.5, nI_patient_labels[k + 1], 3.8, {anchor: "end", fill: "#FF1010"}));
  T(408, 372, "Points", 6.3, {style: "italic"});
  T(408, 384.5, "Stage", 6.3);
  T(408, 399.5, "MRS**", 6.3);
  T(408, 414.5, "N_Stage", 6.3);
  T(408, 431.5, "M_Stage*", 6.3);
  T(408, 446.5, "T_Stage**", 6.3);
  T(408, 464.5, "age***", 6.3);
  T(408, 473.5, "Total points", 6.3, {weight: "bold", style: "italic"});
  T(541, 363, "TCGA", 9.5, {anchor: "middle"});
})();
panelLetter(411, 362, "I");

// ---- J
(function () {
  const p = d3.scaleLinear().domain([0, 100]).range([456, 639]);
  const hs = d3.scaleLinear().domain([0, 30]).range([0, 10]);
  const tp = d3.scaleLinear().domain([80, 220]).range([442, 639]);
  const yP = 598, yM = 616, yA = 638, yS = 661, yTP = 694, yPr = [712, 731, 749];
  const sM = rowScale(p, [-0.35, 0.25], nJ_mrs_pts);
  const sA = rowScale(p, [20, 95], nJ_age_pts);
  const sS = rowScale(p, [1, 4], nJ_stage_pts);
  const pat = nJ_patient;
  [[sM(pat.mrs), yM], [sA(pat.age), yA], [sS(pat.stage), yS]].forEach(d => redDotted(d[0], yP, d[1]));
  nAxis(p, yP, 0, 100, nJ_pointTicks, nJ_pointLabels, 3.9);
  nHistBins(sM, yM, nJ_mrs_edges, nJ_mrs_counts, hs);
  nAxis(sM, yM, -0.36, 0.265, nJ_mrs_ticks, nJ_mrs_tickLabels, 3.6);
  nHistBins(sA, yA, nJ_age_edges, nJ_age_counts, hs);
  nAxis(sA, yA, 19.5, 95.5, nJ_age_ticks, null, 3.6);
  nHistBins(sS, yS, nJ_stage_edges, nJ_stage_counts, hs);
  nAxis(sS, yS, 0.96, 4.65, nJ_stage_ticks, null, 3.8);
  nHistBins(tp, yTP, nJ_tp_edges, nJ_tp_counts, hs);
  nAxis(tp, yTP, 80, 241.3, nJ_tp_ticks, null, 3.9);
  nJ_pr_tp0.forEach((t0, k) => {
    const px = v => tp(t0 + Math.log(-Math.log(v)) / nJ_beta);
    const tk = nJ_pr_ticks[k];
    L(px(tk[0]) - 1, yPr[k], px(tk[tk.length - 1]) + 0.5, yPr[k], "#333", 0.9);
    tk.forEach(v => { L(px(v), yPr[k], px(v), yPr[k] + 1.6, "#333", 0.6); T(px(v), yPr[k] + 5.3, String(v), 3.6, {anchor: "middle"}); });
    T(px(tk[0]) - 1.5, yPr[k] + 1.8, prLabels[k], 6.3, {anchor: "end", style: "italic"});
  });
  [[sM(pat.mrs), yM], [sA(pat.age), yA], [sS(pat.stage), yS]].forEach(d => { redDot(d[0], d[1]); redDot(d[0], yP); });
  const xr = tp(pat.tp);
  L(xr, yTP - 5, xr, yPr[2], "#FF1010", 1.5);
  redDot(xr, yTP); yPr.forEach(yy => redDot(xr, yy));
  T(xr, yTP - 2.5, nJ_patient_labels[0], 3.8, {anchor: "middle", fill: "#FF1010"});
  yPr.forEach((yy, k) => T(xr - 2, yy - 2.5, nJ_patient_labels[k + 1], 3.8, {anchor: "end", fill: "#FF1010"}));
  T(407, 599.5, "Points", 6.3, {style: "italic"});
  T(407, 615.5, "MRS*", 6.3);
  T(407, 640.5, "age**", 6.3);
  T(407, 661.5, "Stage***", 6.3);
  T(407, 682.5, "Total points", 6.3, {weight: "bold", style: "italic"});
  T(550, 585, "GSE28722", 9.5, {anchor: "middle"});
})();
panelLetter(408, 584, "J");

// ===================== Calibration (K, L) =====================
function drawCal(o) {
  const x = d3.scaleLinear().domain([-0.029, 1.036]).range([o.left, o.left + 147]);
  const y = d3.scaleLinear().domain([-0.041, 1.031]).range([738, 634]);
  const g = clip("cal" + o.key, o.left, 634, 147, 104);
  L(x(0), y(0), x(1), y(1), "#CFCFCF", 1.2, null, g);
  o.rug.forEach(r => L(x(r), 634, x(r), 639.5, "#000", 0.6, null, g));
  o.series.forEach((s, i) => {
    g.append("path").datum(s.x.map((v, k) => [v, s.y[k]]))
      .attr("d", d3.line().x(d => x(d[0])).y(d => y(d[1])))
      .attr("fill", "none").attr("stroke", calColors[i]).attr("stroke-width", 1.3);
  });
  o.series.forEach(s => {
    s.x.forEach((v, k) => {
      L(x(v), y(s.lo[k]), x(v), y(s.hi[k]), "#000", 0.9, null, g);
      L(x(v) - 1.5, y(s.lo[k]), x(v) + 1.5, y(s.lo[k]), "#000", 0.9, null, g);
      L(x(v) - 1.5, y(s.hi[k]), x(v) + 1.5, y(s.hi[k]), "#000", 0.9, null, g);
    });
  });
  o.series.forEach(s => s.x.forEach((v, k) =>
    g.append("circle").attr("cx", x(v)).attr("cy", y(s.y[k])).attr("r", 1.3).attr("fill", "#2A5DB0")));
  svg.append("rect").attr("x", o.left).attr("y", 634).attr("width", 147).attr("height", 104)
    .attr("fill", "none").attr("stroke", "#000").attr("stroke-width", 0.9);
  const gx = svg.append("g").attr("transform", "translate(0,738)")
    .call(d3.axisBottom(x).tickValues(calTicks).tickFormat(d3.format(".1f")).tickSize(2).tickPadding(1.5));
  gx.select("path.domain").remove();
  styleAxis(gx, 6.2);
  calTicks.forEach(v => {
    L(o.left, y(v), o.left - 2, y(v), "#000", 0.8);
    T(o.left - 3.5, y(v), d3.format(".1f")(v), 6.2, {anchor: "middle", rot: -90});
  });
  T(o.left + 73, 630, o.title, 9.5, {anchor: "middle"});
  T(o.left + 73, 754.5, "Nomogram−predicted Overall survival (%)", 6.2, {anchor: "middle"});
  T(o.left - 12, 686, "Observed Overall survival (%)", 6.2, {anchor: "middle", rot: -90});
  calYears.forEach((s, i) => {
    const yy = 722 + i * 5.7;
    L(o.left + 113, yy, o.left + 122, yy, calColors[i], 1.3);
    T(o.left + 125, yy + 2, s, 6.2);
  });
}
drawCal({key: "K", left: 20, title: "TCGA", rug: rugK, series: [
  {x: calK_1y_x, y: calK_1y_y, lo: calK_1y_lo, hi: calK_1y_hi},
  {x: calK_3y_x, y: calK_3y_y, lo: calK_3y_lo, hi: calK_3y_hi},
  {x: calK_5y_x, y: calK_5y_y, lo: calK_5y_lo, hi: calK_5y_hi}]});
drawCal({key: "L", left: 202, title: "GSE28722", rug: rugL, series: [
  {x: calL_1y_x, y: calL_1y_y, lo: calL_1y_lo, hi: calL_1y_hi},
  {x: calL_3y_x, y: calL_3y_y, lo: calL_3y_lo, hi: calL_3y_hi},
  {x: calL_5y_x, y: calL_5y_y, lo: calL_5y_lo, hi: calL_5y_hi}]});
panelLetter(5, 623, "K");
panelLetter(183, 623, "L");
</script>
</body>
</html>
